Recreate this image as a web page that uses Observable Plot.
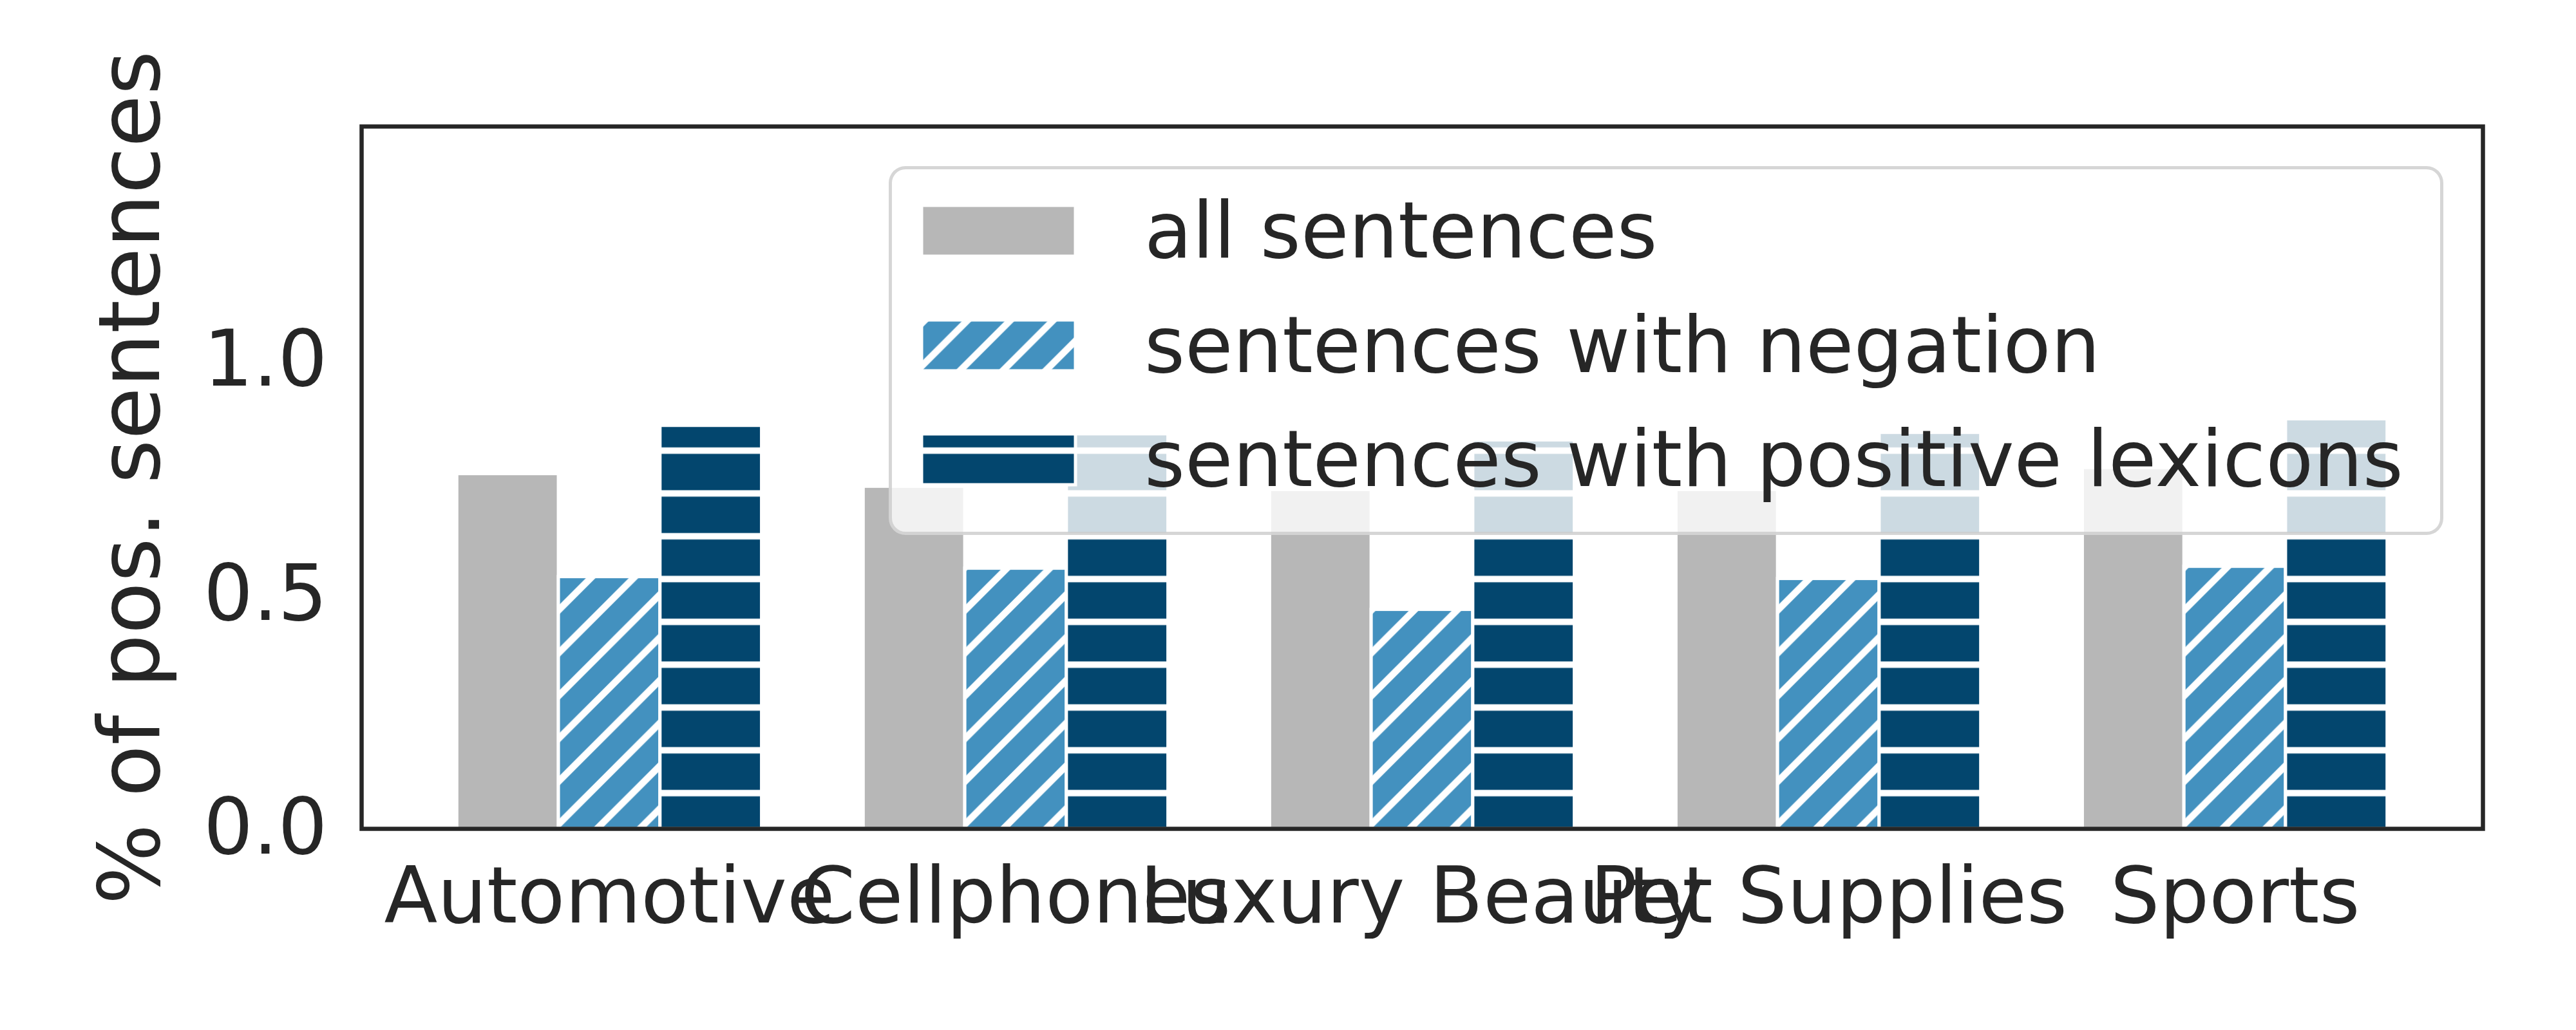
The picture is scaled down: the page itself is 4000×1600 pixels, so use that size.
<!DOCTYPE html>
<html>
<head>
<meta charset="utf-8">
<script src="https://cdn.jsdelivr.net/npm/d3@7"></script>
<script src="https://cdn.jsdelivr.net/npm/@observablehq/plot@0.6"></script>
<style>
  html, body { margin: 0; padding: 0; background: white; }
  #wrap { position: relative; width: 4000px; height: 1600px; font-family: "DejaVu Sans", sans-serif; color: #262626; }
  #wrap > svg { display: block; position: absolute; left: 0; top: 0; }
  #legend {
    position: absolute; left: 1380px; top: 258px; width: 2414px; height: 573px;
    box-sizing: border-box; border: 5px solid rgba(204,204,204,0.8); border-radius: 26px;
    background: rgba(255,255,255,0.8); padding: 56px 0 0 46px;
  }
  .row { display: flex; align-items: center; height: 79px; margin-bottom: 98.5px; }
  .row svg { overflow: visible; flex: none; }
  .row span { margin-left: 107px; font-size: 121px; line-height: 1; white-space: nowrap; }
  #ylabel {
    position: absolute; left: 201px; top: 741.5px; font-size: 132px; line-height: 1; white-space: nowrap;
    transform: translate(-50%, -50%) rotate(-90deg);
  }
</style>
</head>
<body>
<div id="wrap"></div>
<script>
// ---- data ----
const categories = ["Automotive", "Cellphones", "Luxury Beauty", "Pet Supplies", "Sports"];
const seriesNames = ["all sentences", "sentences with negation", "sentences with positive lexicons"];
const allSentences = [0.758, 0.731, 0.724, 0.724, 0.771];
const withNegation = [0.538, 0.556, 0.468, 0.534, 0.560];
const withPositiveLexicons = [0.861, 0.843, 0.830, 0.846, 0.875];
const yTicks = [0, 0.5, 1.0];
const yLabel = "% of pos. sentences";

const seriesValues = [allSentences, withNegation, withPositiveLexicons];
const fills = ["#b7b7b7", "url(#hatchDiag)", "url(#hatchHoriz)"];

const data = categories.flatMap((c, i) =>
  seriesNames.map((s, k) => ({category: c, series: s, value: seriesValues[k][i]}))
);

function makePlot(outer) {
  return Plot.plot({
    width: 4000,
    height: 1600,
    marginLeft: 561,
    marginRight: 145,
    marginTop: 196,
    marginBottom: 313,
    style: {fontFamily: "DejaVu Sans", color: "#262626", background: "white"},
    fx: {domain: categories, paddingInner: 0.25, paddingOuter: 0.235, round: false, label: null, axis: null},
    x: {domain: seriesNames, padding: 0, round: false, axis: null},
    y: {domain: [0, 1.5], axis: null},
    color: {type: "ordinal", domain: seriesNames, range: fills},
    marks: [
      Plot.barY(data, {fx: "category", x: "series", y: "value", fill: "series", stroke: "white", strokeWidth: 5}),
      Plot.axisFx({anchor: "bottom", tickSize: 0, tickPadding: 60, fontSize: 121, label: null}),
      Plot.axisY({ticks: yTicks, tickFormat: d3.format(".1f"), tickSize: 0, tickPadding: 53 + outer, fontSize: 121, label: null}),
      Plot.frame({stroke: "#262626", strokeWidth: 6.5, facet: "super", insetLeft: -outer, insetRight: -outer})
    ]
  });
}

// the super-facet frame spans the facets only; extend it over the outer band padding
const probe = makePlot(0);
const fxScale = probe.scale("fx");
const outerPad = fxScale.apply(categories[0]) - fxScale.range[0];
const plot = makePlot(outerPad);

plot.insertAdjacentHTML("afterbegin", `
<defs>
  <pattern id="hatchDiag" patternUnits="userSpaceOnUse" x="4.5" y="0" width="66.5" height="66.5">
    <rect width="66.5" height="66.5" fill="#4391bf"></rect>
    <path d="M-12,12 L12,-12 M0,66.5 L66.5,0 M54.5,78.5 L78.5,54.5" stroke="white" stroke-width="10.5"></path>
  </pattern>
  <pattern id="hatchHoriz" patternUnits="userSpaceOnUse" x="0" y="0" width="66.5" height="66.5">
    <rect width="66.5" height="66.5" fill="#03466e"></rect>
    <rect y="30" width="66.5" height="10" fill="white"></rect>
  </pattern>
</defs>`);

const wrap = document.getElementById("wrap");
wrap.appendChild(plot);

// y label
const yl = document.createElement("div");
yl.id = "ylabel";
yl.textContent = yLabel;
wrap.appendChild(yl);

// legend
const legend = d3.select(wrap).append("div").attr("id", "legend");
const rows = legend.selectAll(".row").data(seriesNames).join("div").attr("class", "row");
const sw = rows.append("svg").attr("width", 239).attr("height", 79);
sw.append("rect").attr("width", 239).attr("height", 79)
  .attr("fill", (d, i) => fills[i]).attr("stroke", "white").attr("stroke-width", 5);
rows.append("span").text(d => d);

// align legend hatch patterns with the chart's global hatch grid
sw.each(function() {
  const r = this.getBoundingClientRect();
  d3.select(this).attr("viewBox", `${r.left} ${r.top} ${r.width} ${r.height}`)
    .select("rect").attr("x", r.left).attr("y", r.top);
});
</script>
</body>
</html>
